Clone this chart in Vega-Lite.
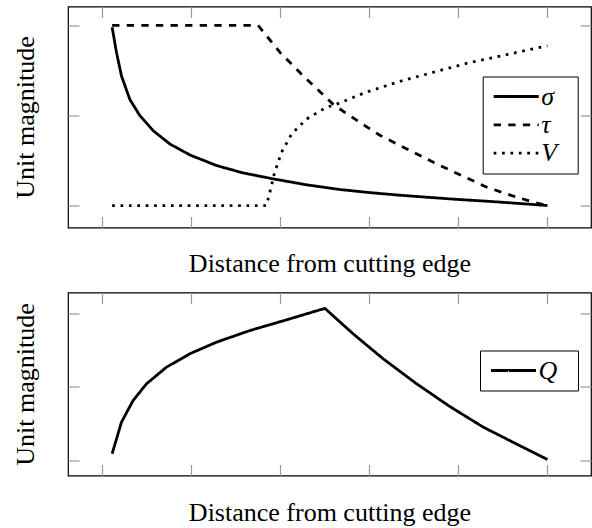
{
  "$schema": "https://vega.github.io/schema/vega-lite/v6.json",
  "padding": {"left": 11, "right": 0, "top": 4.5, "bottom": 2},
  "background": "white",
  "config": {
    "view": {"stroke": "black", "strokeWidth": 1.2},
    "font": "Liberation Serif",
    "axis": {"labels": false, "domain": false, "grid": false, "ticks": true, "tickColor": "#999999", "tickWidth": 1.2, "tickSize": -11, "titleFont": "Liberation Serif", "titleFontSize": 26, "titleFontWeight": "normal", "titleColor": "black"},
    "legend": {"orient": "none", "strokeColor": "black", "fillColor": "white", "padding": 7, "labelFont": "Liberation Serif", "labelFontSize": 26, "labelFontStyle": "italic", "labelColor": "black", "symbolSize": 127, "symbolStrokeWidth": 2.8, "symbolStrokeColor": "black", "symbolOffset": 13.5, "labelOffset": 12, "rowPadding": 2.3}
  },
  "datasets": {
    "top": [
      {"series": "σ", "x": 0.116, "y": 0.99},
      {"series": "σ", "x": 0.165, "y": 0.85},
      {"series": "σ", "x": 0.221, "y": 0.72},
      {"series": "σ", "x": 0.314, "y": 0.59},
      {"series": "σ", "x": 0.426, "y": 0.5},
      {"series": "σ", "x": 0.576, "y": 0.416},
      {"series": "σ", "x": 0.763, "y": 0.342},
      {"series": "σ", "x": 0.988, "y": 0.281},
      {"series": "σ", "x": 1.287, "y": 0.222},
      {"series": "σ", "x": 1.586, "y": 0.181},
      {"series": "σ", "x": 1.923, "y": 0.148},
      {"series": "σ", "x": 2.297, "y": 0.115},
      {"series": "σ", "x": 2.67, "y": 0.089},
      {"series": "σ", "x": 3.0, "y": 0.072},
      {"series": "σ", "x": 3.35, "y": 0.057},
      {"series": "σ", "x": 3.9, "y": 0.037},
      {"series": "σ", "x": 4.47, "y": 0.019},
      {"series": "σ", "x": 5.0, "y": 0.0},
      {"series": "τ", "x": 0.116, "y": 1.0},
      {"series": "τ", "x": 1.754, "y": 1.0},
      {"series": "τ", "x": 2.0, "y": 0.85},
      {"series": "τ", "x": 2.26, "y": 0.72},
      {"series": "τ", "x": 2.6, "y": 0.56},
      {"series": "τ", "x": 2.9, "y": 0.46},
      {"series": "τ", "x": 3.12, "y": 0.39},
      {"series": "τ", "x": 3.4, "y": 0.32},
      {"series": "τ", "x": 3.72, "y": 0.24},
      {"series": "τ", "x": 4.0, "y": 0.175},
      {"series": "τ", "x": 4.32, "y": 0.102},
      {"series": "τ", "x": 4.6, "y": 0.055},
      {"series": "τ", "x": 4.84, "y": 0.019},
      {"series": "τ", "x": 5.0, "y": 0.0},
      {"series": "V", "x": 0.116, "y": 0.0},
      {"series": "V", "x": 1.848, "y": 0.0},
      {"series": "V", "x": 1.886, "y": 0.074},
      {"series": "V", "x": 1.94, "y": 0.185},
      {"series": "V", "x": 2.017, "y": 0.296},
      {"series": "V", "x": 2.13, "y": 0.397},
      {"series": "V", "x": 2.297, "y": 0.48},
      {"series": "V", "x": 2.52, "y": 0.545},
      {"series": "V", "x": 2.6, "y": 0.556},
      {"series": "V", "x": 2.97, "y": 0.63},
      {"series": "V", "x": 3.35, "y": 0.69},
      {"series": "V", "x": 3.72, "y": 0.74},
      {"series": "V", "x": 4.1, "y": 0.79},
      {"series": "V", "x": 4.47, "y": 0.83},
      {"series": "V", "x": 5.0, "y": 0.887}
    ],
    "bottom": [
      {"series": "Q", "x": 0.116, "y": 0.044},
      {"series": "Q", "x": 0.221, "y": 0.259},
      {"series": "Q", "x": 0.351, "y": 0.406},
      {"series": "Q", "x": 0.502, "y": 0.52},
      {"series": "Q", "x": 0.726, "y": 0.633},
      {"series": "Q", "x": 0.988, "y": 0.724},
      {"series": "Q", "x": 1.287, "y": 0.803},
      {"series": "Q", "x": 1.661, "y": 0.882},
      {"series": "Q", "x": 2.073, "y": 0.955},
      {"series": "Q", "x": 2.503, "y": 1.033},
      {"series": "Q", "x": 2.82, "y": 0.86},
      {"series": "Q", "x": 3.157, "y": 0.69},
      {"series": "Q", "x": 3.532, "y": 0.52},
      {"series": "Q", "x": 3.906, "y": 0.365},
      {"series": "Q", "x": 4.28, "y": 0.225},
      {"series": "Q", "x": 4.654, "y": 0.11},
      {"series": "Q", "x": 5.0, "y": 0.005}
    ]
  },
  "spacing": 13,
  "resolve": {"scale": {"y": "independent", "strokeDash": "independent"}, "legend": {"strokeDash": "independent"}},
  "vconcat": [
    {
      "width": 523,
      "height": 221,
      "data": {"name": "top"},
      "resolve": {"axis": {"x": "independent", "y": "independent"}},
      "layer": [
        {
          "mark": {"type": "line", "color": "black", "strokeWidth": 2.8, "strokeCap": "butt"},
          "encoding": {
            "x": {"field": "x", "type": "quantitative", "scale": {"domain": [-0.379, 5.489], "nice": false, "zero": false},
                  "axis": {"orient": "bottom", "values": [0, 1, 2, 3, 4, 5], "title": "Distance from cutting edge", "titleY": 44, "titleBaseline": "alphabetic"}},
            "y": {"field": "y", "type": "quantitative", "scale": {"domain": [-0.122, 1.105], "nice": false, "zero": false},
                  "axis": {"orient": "left", "values": [0, 0.5, 1], "title": "Unit magnitude", "titleX": -34.5, "titleBaseline": "alphabetic"}},
            "strokeDash": {"field": "series", "type": "nominal",
                  "scale": {"domain": ["σ", "τ", "V"], "range": [[1, 0], [7.3, 7.3], [2.7, 5.7]]},
                  "legend": {"title": null, "orient": "none", "legendX": 414.7, "legendY": 70, "symbolType": "M-4,0H4", "labelExpr": "datum.label + '\u00A0\u00A0\u200B'"}}
          }
        },
        {
          "mark": {"type": "line", "strokeOpacity": 0},
          "encoding": {
            "x": {"field": "x", "type": "quantitative", "scale": {"domain": [-0.379, 5.489], "nice": false, "zero": false},
                  "axis": {"orient": "top", "values": [0, 1, 2, 3, 4, 5], "title": null}},
            "y": {"field": "y", "type": "quantitative", "scale": {"domain": [-0.122, 1.105], "nice": false, "zero": false},
                  "axis": {"orient": "right", "values": [0, 0.5, 1], "title": null}},
            "detail": {"field": "series"}
          }
        }
      ]
    },
    {
      "width": 523,
      "height": 183,
      "data": {"name": "bottom"},
      "resolve": {"axis": {"x": "independent", "y": "independent"}},
      "layer": [
        {
          "mark": {"type": "line", "color": "black", "strokeWidth": 2.8, "strokeCap": "butt"},
          "encoding": {
            "x": {"field": "x", "type": "quantitative", "scale": {"domain": [-0.379, 5.489], "nice": false, "zero": false},
                  "axis": {"orient": "bottom", "values": [0, 1, 2, 3, 4, 5], "title": "Distance from cutting edge", "titleY": 44.5, "titleBaseline": "alphabetic"}},
            "y": {"field": "y", "type": "quantitative", "scale": {"domain": [-0.104, 1.141], "nice": false, "zero": false},
                  "axis": {"orient": "left", "values": [0, 0.5, 1], "title": "Unit magnitude", "titleX": -34.5, "titleBaseline": "alphabetic"}},
            "strokeDash": {"field": "series", "type": "nominal",
                  "scale": {"domain": ["Q"], "range": [[1, 0]]},
                  "legend": {"title": null, "orient": "none", "legendX": 412, "legendY": 58, "symbolType": "M-4,0H4", "labelExpr": "datum.label + '\u00A0\u00A0\u200B'"}}
          }
        },
        {
          "mark": {"type": "line", "strokeOpacity": 0},
          "encoding": {
            "x": {"field": "x", "type": "quantitative", "scale": {"domain": [-0.379, 5.489], "nice": false, "zero": false},
                  "axis": {"orient": "top", "values": [0, 1, 2, 3, 4, 5], "title": null}},
            "y": {"field": "y", "type": "quantitative", "scale": {"domain": [-0.104, 1.141], "nice": false, "zero": false},
                  "axis": {"orient": "right", "values": [0, 0.5, 1], "title": null}},
            "detail": {"field": "series"}
          }
        }
      ]
    }
  ]
}
